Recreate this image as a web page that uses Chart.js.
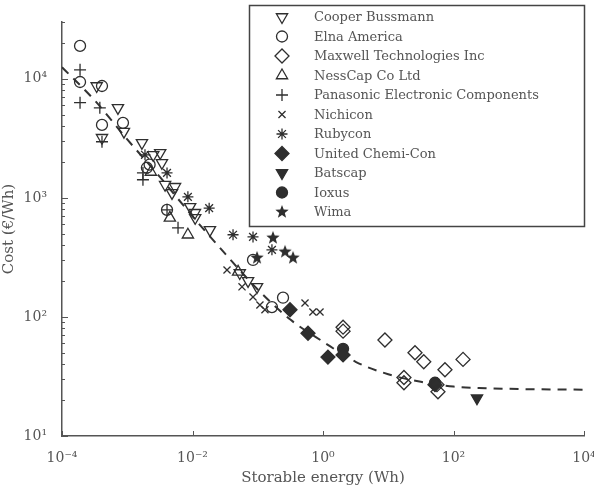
<!DOCTYPE html>
<html>
<head>
<meta charset="utf-8">
<script src="https://cdn.jsdelivr.net/npm/chart.js@4.4.1/dist/chart.umd.min.js"></script>
<style>
  html, body { margin: 0; padding: 0; background: #fff; }
</style>
</head>
<body>
<canvas id="costChart" width="594" height="487"></canvas>
<script>
// axis ticks
const xTickValues = [1e-4, 1e-2, 1, 1e2, 1e4];
const xTickLabels = ['10⁻⁴', '10⁻²', '10⁰', '10²', '10⁴'];
const yTickValues = [10, 100, 1000, 10000];
const yTickLabels = ['10¹', '10²', '10³', '10⁴'];

// storable energy (Wh) and cost (€/Wh) per manufacturer
const cooperX = [3.4e-4, 7.2e-4, 4.1e-4, 8.9e-4, 1.68e-3, 3.2e-3, 3.4e-3, 2.5e-3, 3.8e-3, 5.4e-3, 4.85e-3, 9.2e-3, 1.09e-2, 1.1e-2, 1.85e-2, 5.3e-2, 7.1e-2, 9.75e-2];
const cooperY = [8700, 5700, 3200, 3600, 2900, 2390, 1970, 2300, 1290, 1240, 1100, 840, 750, 680, 538, 234, 201, 179];
const elnaX = [1.89e-4, 1.89e-4, 4.1e-4, 4.1e-4, 8.6e-4, 2.0e-3, 2.2e-3, 4.07e-3, 8.46e-2, 0.165, 0.244];
const elnaY = [18900, 9400, 8700, 4100, 4270, 1790, 1900, 793, 301, 121, 145];
const maxwellX = [2.03, 2.03, 8.9, 25.7, 35, 74, 140, 17.4, 17.4, 55.8, 57.8];
const maxwellY = [82, 76, 64, 50, 42, 36, 44, 31, 28, 27, 23.5];
const nesscapX = [4.5e-3, 2.3e-3, 8.5e-3, 5.0e-2];
const nesscapY = [680, 1650, 490, 239];
const panasonicX = [1.89e-4, 1.89e-4, 3.8e-4, 4.1e-4, 1.74e-3, 1.74e-3, 4.07e-3, 6.0e-3];
const panasonicY = [11900, 6300, 5700, 2960, 1620, 1420, 793, 560];
const nichiconX = [3.38e-2, 5.74e-2, 8.46e-2, 0.108, 0.129, 0.53, 0.70, 0.90];
const nichiconY = [248, 179, 147, 126, 115, 131, 110, 110];
const rubyconX = [1.87e-3, 4.07e-3, 8.5e-3, 1.8e-2, 4.18e-2, 8.46e-2, 0.165];
const rubyconY = [2300, 1620, 1020, 820, 490, 470, 366];
const chemiconX = [0.312, 0.589, 1.19, 2.03, 52];
const chemiconY = [115, 73, 46, 48, 27];
const batscapX = [229];
const batscapY = [20.8];
const ioxusX = [2.03, 52];
const ioxusY = [54, 28];
const wimaX = [0.171, 0.262, 0.347, 9.75e-2];
const wimaY = [461, 352, 313, 313];

// dashed trend line, read at half-decade steps
const fitX = [1e-4, 3.16e-4, 1e-3, 3.16e-3, 1e-2, 3.16e-2, 0.1, 0.316, 1, 3.16, 10, 31.6, 100, 316, 1000, 10000];
const fitY = [12500, 6600, 3100, 1500, 700, 340, 170, 95, 62, 42, 33, 28.5, 26, 25.2, 24.8, 24.5];

const ink = '#2e2e2e';
const textGrey = '#555';

function pts(xs, ys) {
    return xs.map(function(x, i) { return {x: x, y: ys[i]}; });
}

// filled five-point star for Wima
function makeStar(r) {
    const c = document.createElement('canvas');
    const s = Math.ceil(r * 2 + 2);
    c.width = c.height = s;
    const g = c.getContext('2d');
    g.fillStyle = ink;
    g.beginPath();
    for (let i = 0; i < 10; i++) {
        const rr = i % 2 ? r * 0.42 : r;
        const a = -Math.PI / 2 + i * Math.PI / 5;
        g.lineTo(s / 2 + rr * Math.cos(a), s / 2 + rr * Math.sin(a));
    }
    g.closePath();
    g.fill();
    return c;
}
const starImg = makeStar(7);

function series(label, xs, ys, style, radius, filled, rotation) {
    return {
        label: label,
        data: pts(xs, ys),
        pointStyle: style,
        pointRadius: radius,
        pointHoverRadius: radius,
        pointRotation: rotation || 0,
        pointBorderWidth: 1.3,
        borderColor: ink,
        backgroundColor: filled ? ink : 'rgba(0,0,0,0)',
        showLine: false
    };
}

const datasets = [
    series('Cooper Bussmann', cooperX, cooperY, 'triangle', 6.5, false, 180),
    series('Elna America', elnaX, elnaY, 'circle', 5.5, false),
    series('Maxwell Technologies Inc', maxwellX, maxwellY, 'rectRot', 7, false),
    series('NessCap Co Ltd', nesscapX, nesscapY, 'triangle', 6.5, false),
    series('Panasonic Electronic Components', panasonicX, panasonicY, 'cross', 6, false),
    series('Nichicon', nichiconX, nichiconY, 'crossRot', 5, false),
    series('Rubycon', rubyconX, rubyconY, 'star', 5.5, false),
    series('United Chemi-Con', chemiconX, chemiconY, 'rectRot', 7, true),
    series('Batscap', batscapX, batscapY, 'triangle', 6.5, true, 180),
    series('Ioxus', ioxusX, ioxusY, 'circle', 5.5, true),
    series('Wima', wimaX, wimaY, starImg, 7, true)
];

datasets.push({
    type: 'line',
    label: 'fit',
    data: pts(fitX, fitY),
    borderColor: '#333',
    borderWidth: 2,
    borderDash: [9, 7],
    pointRadius: 0,
    cubicInterpolationMode: 'monotone',
    fill: false
});

// ticks pointing into the plot, as in the original figure
const innerTicks = {
    id: 'innerTicks',
    afterDraw(chart) {
        const ctx = chart.ctx;
        const a = chart.chartArea;
        const xs = chart.scales.x, ys = chart.scales.y;
        ctx.save();
        ctx.strokeStyle = textGrey;
        ctx.lineWidth = 1;
        ctx.beginPath();
        for (let d = 1; d <= 4; d++) {
            for (let m = 1; m <= 9; m++) {
                const v = m * Math.pow(10, d);
                if (v > ys.max) continue;
                const py = Math.round(ys.getPixelForValue(v)) + 0.5;
                ctx.moveTo(a.left, py);
                ctx.lineTo(a.left + (m === 1 ? 6 : 3), py);
            }
        }
        xTickValues.forEach(function(v) {
            const px = Math.round(xs.getPixelForValue(v)) + 0.5;
            ctx.moveTo(px, a.bottom);
            ctx.lineTo(px, a.bottom - 5);
        });
        ctx.stroke();
        ctx.restore();
    }
};

// boxed legend in the upper right corner
const legendBox = {
    id: 'legendBox',
    afterDraw(chart) {
        const ctx = chart.ctx;
        const left = 249, top = 5, w = 336, h = 222;
        ctx.save();
        ctx.fillStyle = '#fff';
        ctx.fillRect(left, top, w, h);
        ctx.strokeStyle = '#444';
        ctx.lineWidth = 1.5;
        ctx.strokeRect(left + 0.5, top + 0.5, w - 1, h - 1);
        ctx.font = '13px "DejaVu Serif", serif';
        ctx.textBaseline = 'middle';
        datasets.forEach(function(ds, i) {
            if (ds.type === 'line') return;
            const yRow = 17 + i * 19.5;
            ctx.strokeStyle = ds.borderColor;
            ctx.fillStyle = ds.backgroundColor;
            ctx.lineWidth = ds.pointBorderWidth;
            Chart.helpers.drawPoint(ctx, {
                pointStyle: ds.pointStyle,
                rotation: ds.pointRotation,
                radius: ds.pointRadius,
                borderWidth: ds.pointBorderWidth
            }, 282, yRow);
            ctx.fillStyle = textGrey;
            ctx.fillText(ds.label, 314, yRow + 1);
        });
        ctx.restore();
    }
};

Chart.defaults.font.family = '"DejaVu Serif", serif';
Chart.defaults.color = textGrey;

const ctx = document.getElementById('costChart').getContext('2d');
const costChart = new Chart(ctx, {
    type: 'scatter',
    data: { datasets: datasets },
    options: {
        responsive: false,
        animation: false,
        layout: { padding: { left: 0, right: 10, top: 22, bottom: 0 } },
        plugins: {
            legend: { display: false },
            tooltip: { enabled: false }
        },
        scales: {
            x: {
                type: 'logarithmic',
                min: 1e-4,
                max: 1e4,
                grid: { display: false },
                border: { display: true, color: textGrey, width: 1.5 },
                afterBuildTicks: function(scale) {
                    scale.ticks = xTickValues.map(function(v) { return {value: v}; });
                },
                afterFit: function(scale) {
                    scale.height = 51;
                    scale.paddingLeft = 0;
                    scale.paddingRight = 0;
                },
                ticks: {
                    autoSkip: false,
                    maxRotation: 0,
                    padding: 6,
                    font: { size: 14 },
                    callback: function(v) {
                        const i = xTickValues.indexOf(v);
                        return i >= 0 ? xTickLabels[i] : '';
                    }
                },
                title: {
                    display: true,
                    text: 'Storable energy (Wh)',
                    font: { size: 15 },
                    padding: { top: 0, bottom: 0 }
                }
            },
            y: {
                type: 'logarithmic',
                min: 10,
                max: 30000,
                grid: { display: false },
                border: { display: true, color: textGrey, width: 1.5 },
                afterBuildTicks: function(scale) {
                    scale.ticks = yTickValues.map(function(v) { return {value: v}; });
                },
                afterFit: function(scale) {
                    scale.width = 62;
                    scale.paddingTop = 0;
                    scale.paddingBottom = 0;
                },
                ticks: {
                    autoSkip: false,
                    padding: 7,
                    font: { size: 14 },
                    callback: function(v) {
                        const i = yTickValues.indexOf(v);
                        return i >= 0 ? yTickLabels[i] : '';
                    }
                },
                title: {
                    display: true,
                    text: 'Cost (€/Wh)',
                    font: { size: 15 },
                    padding: { top: 0, bottom: 0 }
                }
            }
        }
    },
    plugins: [innerTicks, legendBox]
});
</script>
</body>
</html>
